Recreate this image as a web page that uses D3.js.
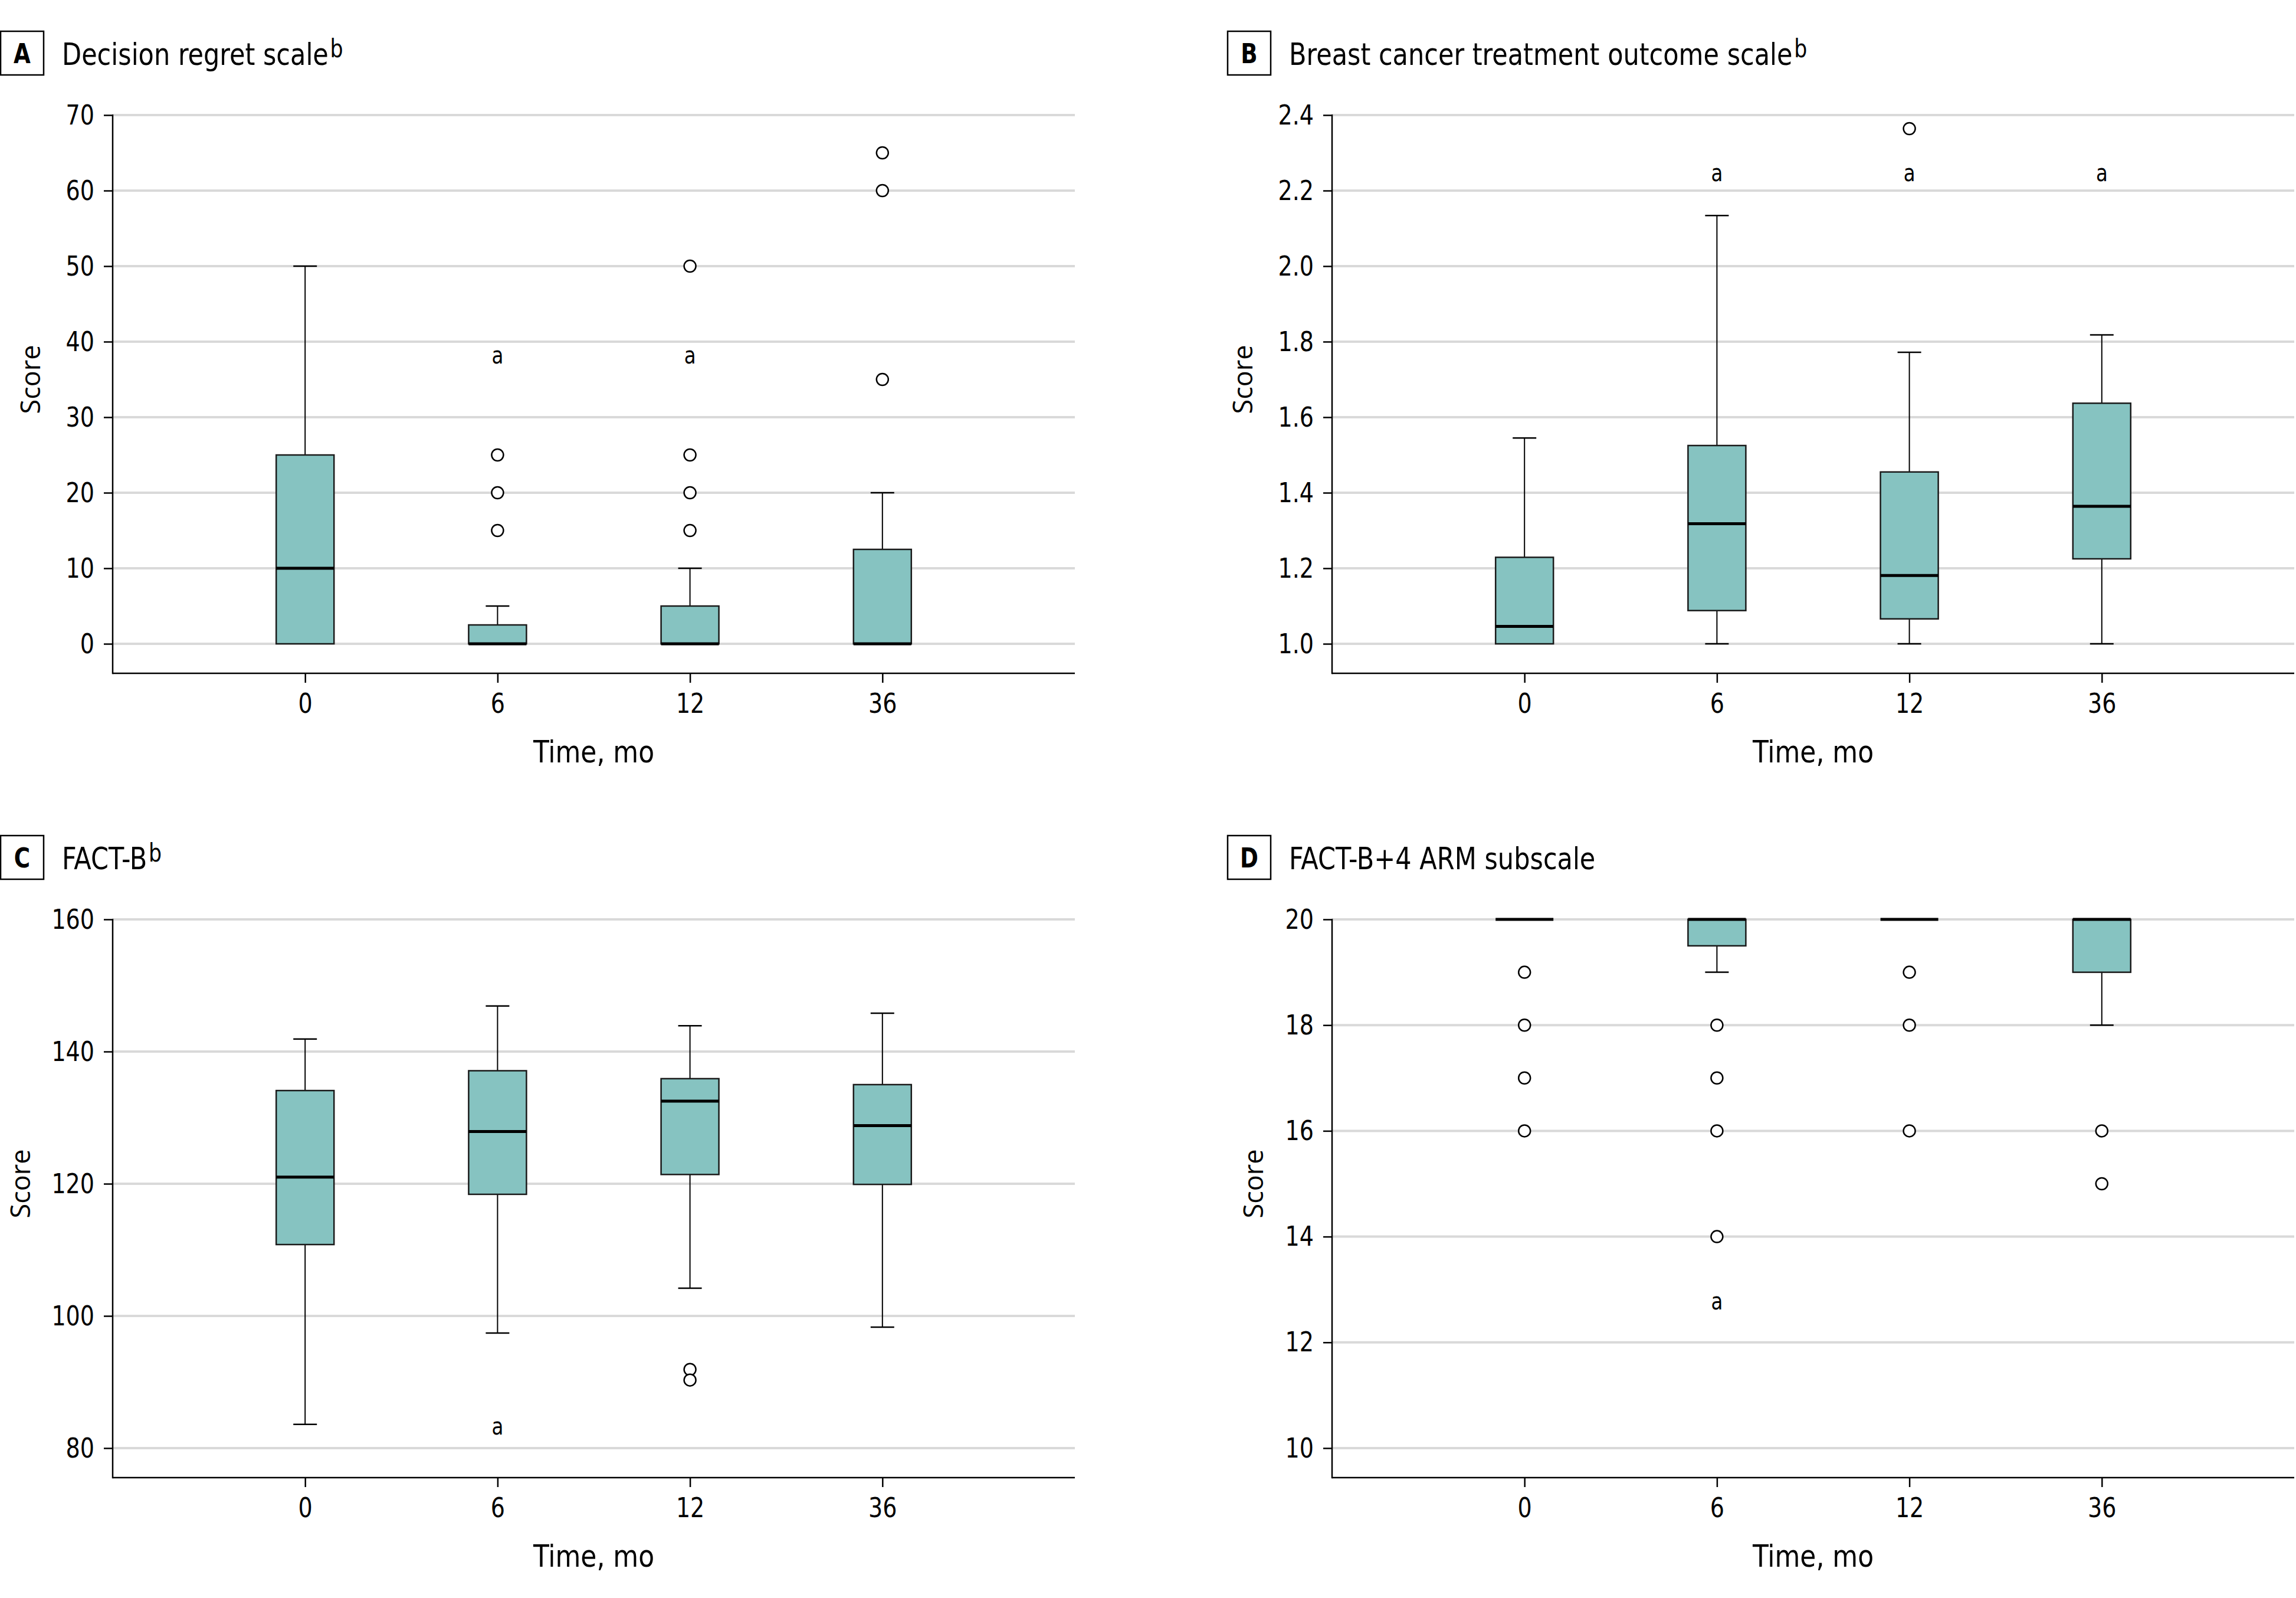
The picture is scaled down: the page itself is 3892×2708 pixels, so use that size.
<!DOCTYPE html>
<html><head><meta charset="utf-8">
<script src="https://cdn.jsdelivr.net/npm/d3@7"></script>
<style>
body{margin:0;background:#fff;}
svg{display:block;background:#fff;}
</style></head><body>
<svg id="chart" width="3892" height="2708"></svg>
<script>
// ---------- DATA ----------
const timepoints = ["0", "6", "12", "36"];

// A: Decision regret scale
const regretTicks = [0, 10, 20, 30, 40, 50, 60, 70];
const regretQ1 = [0, 0, 0, 0];
const regretMedian = [10, 0, 0, 0];
const regretQ3 = [25, 2.5, 5, 12.5];
const regretLow = [0, 0, 0, 0];
const regretHigh = [50, 5, 10, 20];
const regretOutliers = [[], [15, 20, 25], [15, 20, 25, 50], [35, 60, 65]];
const regretMarks = [null, 38, 38, null];

// B: Breast cancer treatment outcome scale
const bctosTicks = [1.0, 1.2, 1.4, 1.6, 1.8, 2.0, 2.2, 2.4];
const bctosQ1 = [1.0, 1.088, 1.066, 1.225];
const bctosMedian = [1.046, 1.318, 1.181, 1.364];
const bctosQ3 = [1.229, 1.525, 1.455, 1.637];
const bctosLow = [1.0, 1.0, 1.0, 1.0];
const bctosHigh = [1.545, 2.134, 1.772, 1.818];
const bctosOutliers = [[], [], [2.364], []];
const bctosMarks = [null, 2.242, 2.242, 2.242];

// C: FACT-B
const factbTicks = [80, 100, 120, 140, 160];
const factbQ1 = [110.8, 118.4, 121.4, 119.9];
const factbMedian = [121.0, 127.9, 132.5, 128.8];
const factbQ3 = [134.1, 137.1, 135.9, 135.0];
const factbLow = [83.6, 97.4, 104.2, 98.3];
const factbHigh = [141.9, 146.9, 143.9, 145.8];
const factbOutliers = [[], [], [91.9, 90.3], []];
const factbMarks = [null, 83.0, null, null];

// D: FACT-B+4 ARM subscale
const armTicks = [10, 12, 14, 16, 18, 20];
const armQ1 = [20, 19.5, 20, 19];
const armMedian = [20, 20, 20, 20];
const armQ3 = [20, 20, 20, 20];
const armLow = [20, 19, 20, 18];
const armHigh = [20, 20, 20, 20];
const armOutliers = [[19, 18, 17, 16], [18, 17, 16, 14], [19, 18, 16], [16, 15]];
const armMarks = [null, 12.75, null, null];

const panelTitles = ["Decision regret scale", "Breast cancer treatment outcome scale", "FACT-B", "FACT-B+4 ARM subscale"];
const panelSups = ["b", "b", "b", ""];
const panelLetters = ["A", "B", "C", "D"];
const xAxisTitle = "Time, mo";
const yAxisTitle = "Score";
const markText = "a";

// ---------- STYLE / LAYOUT ----------
const NARROW = "'Liberation Sans Narrow', 'DejaVu Sans Condensed', 'DejaVu Sans', sans-serif";
const WIDE = "'Open Sans', 'DejaVu Sans', sans-serif";
const BOX_FILL = "#86c3c1";
const GRID = "#d9d9d9";
const K_TITLE = 0.92, K_TICK = 0.9, K_AXIS = 0.94, K_LETTER = 0.88;

const panels = [
  {q1: regretQ1, med: regretMedian, q3: regretQ3, lo: regretLow, hi: regretHigh, out: regretOutliers, marks: regretMarks, ticks: regretTicks, fmt: d3.format("d"),
   L: {boxX: 1, oy: 0, axisX: 191, right: 1822, scoreX: 52}},
  {q1: bctosQ1, med: bctosMedian, q3: bctosQ3, lo: bctosLow, hi: bctosHigh, out: bctosOutliers, marks: bctosMarks, ticks: bctosTicks, fmt: d3.format(".1f"),
   L: {boxX: 2081, oy: 0, axisX: 2258, right: 3889, scoreX: 2107}},
  {q1: factbQ1, med: factbMedian, q3: factbQ3, lo: factbLow, hi: factbHigh, out: factbOutliers, marks: factbMarks, ticks: factbTicks, fmt: d3.format("d"),
   L: {boxX: 1, oy: 1363, axisX: 191, right: 1822, scoreX: 35}},
  {q1: armQ1, med: armMedian, q3: armQ3, lo: armLow, hi: armHigh, out: armOutliers, marks: armMarks, ticks: armTicks, fmt: d3.format("d"),
   L: {boxX: 2081, oy: 1363, axisX: 2258, right: 3889, scoreX: 2125}}
];

const svg = d3.select("#chart");

function ntext(parent, x, y, size, k) {
  return parent.append("text")
    .attr("transform", `translate(${x},${y}) scale(${k},1)`)
    .attr("font-family", NARROW).attr("font-size", size).attr("fill", "#000");
}

panels.forEach((p, pi) => {
  const L = p.L;
  const yTop = L.oy + 195, yBot = L.oy + 1091, axisY = L.oy + 1141;
  const g = svg.append("g");

  const y = d3.scaleLinear().domain([p.ticks[0], p.ticks[p.ticks.length - 1]]).range([yBot, yTop]);
  const spacing = (L.right - L.axisX) / 5;
  const x = d3.scalePoint().domain(timepoints).range([L.axisX + spacing, L.axisX + 4 * spacing]);

  // title
  g.append("rect").attr("x", L.boxX).attr("y", L.oy + 53).attr("width", 73).attr("height", 74)
    .attr("fill", "none").attr("stroke", "#000").attr("stroke-width", 2.5);
  ntext(g, L.boxX + 36.5, L.oy + 107, 47, K_LETTER).attr("text-anchor", "middle")
    .attr("font-weight", "bold").text(panelLetters[pi]);
  const t = ntext(g, L.boxX + 104, L.oy + 110, 52, K_TITLE);
  t.append("tspan").text(panelTitles[pi]);
  if (panelSups[pi]) t.append("tspan").attr("dy", -13).attr("dx", 3).attr("font-size", 42).text(panelSups[pi]);

  // gridlines
  g.append("g").selectAll("line").data(p.ticks).join("line")
    .attr("x1", L.axisX).attr("x2", L.right)
    .attr("y1", d => y(d)).attr("y2", d => y(d))
    .attr("stroke", GRID).attr("stroke-width", 4);

  // y axis
  const ya = g.append("g").attr("transform", `translate(${L.axisX},0)`)
    .call(d3.axisLeft(y).tickValues(p.ticks).tickFormat(p.fmt).tickSize(15).tickPadding(16));
  ya.select(".domain").remove();
  ya.selectAll(".tick line").attr("stroke", "#000").attr("stroke-width", 2.5);
  ya.selectAll(".tick text").attr("font-family", NARROW).attr("font-size", 47).attr("fill", "#000")
    .attr("x", -31 / K_TICK).attr("transform", `scale(${K_TICK},1)`);

  // x axis
  const xa = g.append("g").attr("transform", `translate(0,${axisY})`)
    .call(d3.axisBottom(x).tickSize(16).tickPadding(18));
  xa.select(".domain").remove();
  xa.selectAll(".tick line").attr("stroke", "#000").attr("stroke-width", 2.5);
  xa.selectAll(".tick text").attr("font-family", NARROW).attr("font-size", 47).attr("fill", "#000")
    .attr("transform", `scale(${K_TICK},1)`);

  // axis lines
  g.append("line").attr("x1", L.axisX).attr("x2", L.axisX).attr("y1", yTop - 1).attr("y2", axisY + 1.25)
    .attr("stroke", "#000").attr("stroke-width", 2.5);
  g.append("line").attr("x1", L.axisX).attr("x2", L.right).attr("y1", axisY).attr("y2", axisY)
    .attr("stroke", "#000").attr("stroke-width", 2.5);

  // axis titles
  ntext(g, (L.axisX + L.right) / 2, L.oy + 1292, 52, K_AXIS).attr("text-anchor", "middle").text(xAxisTitle);
  g.append("text").attr("transform", `translate(${L.scoreX + 16},${(yTop + yBot) / 2}) rotate(-90)`)
    .attr("text-anchor", "middle").attr("font-family", WIDE).attr("font-size", 45).text(yAxisTitle);

  // boxes
  const bw = 98, cw = 40;
  timepoints.forEach((tp, i) => {
    const cx = x(tp);
    const bg = g.append("g");
    if (p.lo[i] < p.q1[i]) {
      bg.append("line").attr("x1", cx).attr("x2", cx).attr("y1", y(p.q1[i])).attr("y2", y(p.lo[i])).attr("stroke", "#000").attr("stroke-width", 2);
      bg.append("line").attr("x1", cx - cw / 2).attr("x2", cx + cw / 2).attr("y1", y(p.lo[i])).attr("y2", y(p.lo[i])).attr("stroke", "#000").attr("stroke-width", 2.5);
    }
    if (p.hi[i] > p.q3[i]) {
      bg.append("line").attr("x1", cx).attr("x2", cx).attr("y1", y(p.q3[i])).attr("y2", y(p.hi[i])).attr("stroke", "#000").attr("stroke-width", 2);
      bg.append("line").attr("x1", cx - cw / 2).attr("x2", cx + cw / 2).attr("y1", y(p.hi[i])).attr("y2", y(p.hi[i])).attr("stroke", "#000").attr("stroke-width", 2.5);
    }
    if (p.q3[i] > p.q1[i]) {
      bg.append("rect").attr("x", cx - bw / 2).attr("y", y(p.q3[i])).attr("width", bw).attr("height", y(p.q1[i]) - y(p.q3[i]))
        .attr("fill", BOX_FILL).attr("stroke", "#1a1a1a").attr("stroke-width", 2.5);
    }
    bg.append("line").attr("x1", cx - bw / 2).attr("x2", cx + bw / 2).attr("y1", y(p.med[i])).attr("y2", y(p.med[i]))
      .attr("stroke", "#000").attr("stroke-width", 5);
    bg.selectAll("circle").data(p.out[i]).join("circle")
      .attr("cx", cx).attr("cy", d => y(d)).attr("r", 10)
      .attr("fill", "#fff").attr("stroke", "#000").attr("stroke-width", 2.5);
    if (p.marks[i] !== null) {
      ntext(bg, cx, y(p.marks[i]) + 11, 40, K_TICK).attr("text-anchor", "middle").text(markText);
    }
  });
});
</script>
</body></html>
